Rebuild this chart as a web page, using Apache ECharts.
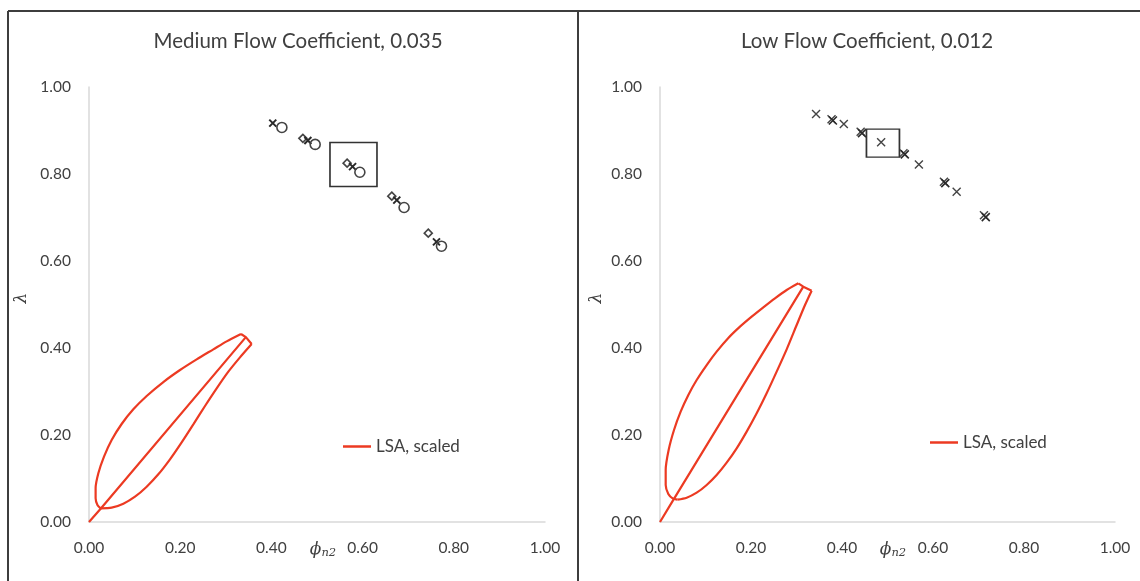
<!DOCTYPE html>
<html>
<head>
<meta charset="utf-8">
<script src="https://cdn.jsdelivr.net/npm/echarts@6/dist/echarts.min.js"></script>
<style>
  html, body { margin: 0; padding: 0; background: #ffffff; }
  #chart { width: 1140px; height: 581px; }
</style>
</head>
<body>
<div id="chart"></div>
<script>
// Axis ticks shared by both panels
const axisTicks = [0, 0.2, 0.4, 0.6, 0.8, 1.0];
const panelTitles = ['Medium Flow Coefficient, 0.035', 'Low Flow Coefficient, 0.012'];
const lsaName = 'LSA, scaled';

// Medium flow coefficient: operating points (phi_n2, lambda)
const medDiamond = [[0.469, 0.882], [0.566, 0.825], [0.664, 0.749], [0.744, 0.664]];
const medCross   = [[0.403, 0.917], [0.480, 0.877], [0.578, 0.817], [0.675, 0.740], [0.762, 0.644]];
const medCircle  = [[0.423, 0.907], [0.496, 0.868], [0.594, 0.804], [0.691, 0.723], [0.773, 0.634]];
const medBox     = [[0.580, 0.822]];

// Medium flow coefficient: LSA contour, scaled
const medLsaCenter = [[0, 0], [0.026, 0.031], [0.344, 0.425]];
const medLsaUpper  = [[0.3333, 0.4322], [0.3019, 0.4153], [0.2727, 0.3969], [0.2361, 0.3739], [0.1996, 0.3494],
                      [0.1630, 0.3218], [0.1265, 0.2897], [0.0972, 0.2590], [0.0716, 0.2253], [0.0497, 0.1885],
                      [0.0329, 0.1502], [0.0205, 0.1119], [0.0145, 0.0774], [0.0145, 0.0544], [0.0185, 0.0391],
                      [0.0256, 0.0314]];
const medLsaLower  = [[0.0256, 0.0314], [0.0497, 0.0330], [0.0753, 0.0421], [0.1009, 0.0582], [0.1265, 0.0812],
                      [0.1520, 0.1096], [0.1776, 0.1441], [0.2032, 0.1831], [0.2288, 0.2245], [0.2544, 0.2667],
                      [0.2800, 0.3073], [0.3056, 0.3456], [0.3311, 0.3785], [0.3567, 0.4092]];
const medLsaTip    = [[0.3567, 0.4092], [0.344, 0.425], [0.3333, 0.4322]];

// Low flow coefficient: operating points (phi_n2, lambda)
const lowCrossA = [[0.343, 0.938], [0.377, 0.926], [0.404, 0.915], [0.441, 0.897], [0.486, 0.873],
                   [0.535, 0.848], [0.569, 0.822], [0.624, 0.782], [0.652, 0.759], [0.712, 0.705]];
const lowCrossB = [[0.380, 0.923], [0.444, 0.894], [0.538, 0.845], [0.627, 0.779], [0.716, 0.701]];
const lowBox    = [[0.490, 0.871]];

// Low flow coefficient: LSA contour, scaled
const lowLsaCenter = [[0, 0], [0.026, 0.045], [0.315, 0.541]];
const lowLsaUpper  = [[0.3040, 0.5487], [0.2784, 0.5333], [0.2527, 0.5142], [0.2271, 0.4935], [0.2015, 0.4720],
                      [0.1758, 0.4490], [0.1502, 0.4230], [0.1245, 0.3916], [0.1026, 0.3609], [0.0806, 0.3264],
                      [0.0623, 0.2920], [0.0454, 0.2536], [0.0308, 0.2115], [0.0190, 0.1655], [0.0125, 0.1195],
                      [0.0125, 0.0851], [0.0183, 0.0644], [0.0278, 0.0544], [0.0381, 0.0513]];
const lowLsaLower  = [[0.0381, 0.0513], [0.0586, 0.0559], [0.0806, 0.0674], [0.1026, 0.0851], [0.1245, 0.1080],
                      [0.1465, 0.1364], [0.1685, 0.1693], [0.1905, 0.2077], [0.2125, 0.2498], [0.2344, 0.2958],
                      [0.2564, 0.3456], [0.2784, 0.3969], [0.3004, 0.4529], [0.3187, 0.4989], [0.3333, 0.5318]];
const lowLsaTip    = [[0.3333, 0.5318], [0.315, 0.541], [0.3040, 0.5487]];

const LSA_RED = '#ec3a22';
const TEXT = '#404040';
const AXIS_LINE = '#d9d9d9';
const FONT = 'Lato, "Open Sans", sans-serif';
const CROSS = 'path://M0,0L10,10M10,0L0,10';

function makeAxis(gridIndex) {
  return {
    type: 'value', gridIndex, min: axisTicks[0], max: axisTicks[axisTicks.length - 1], interval: 0.2,
    axisLine: { show: true, lineStyle: { color: AXIS_LINE, width: 1.5 } },
    axisTick: { show: false },
    splitLine: { show: false },
    axisLabel: { color: TEXT, fontSize: 15.5, fontFamily: FONT, margin: 18,
                 formatter: v => v.toFixed(2) }
  };
}

function lsaLine(data, xi, smooth) {
  return {
    name: lsaName, type: 'line', xAxisIndex: xi, yAxisIndex: xi, data,
    smooth: smooth ? 0.25 : false, showSymbol: false, symbol: 'none',
    lineStyle: { color: LSA_RED, width: 2.2 }, itemStyle: { color: LSA_RED },
    silent: true, z: 3
  };
}

function markerSeries(name, data, xi, symbol, size, color, width) {
  return {
    name, type: 'scatter', xAxisIndex: xi, yAxisIndex: xi, data, symbol, symbolSize: size,
    itemStyle: { color: 'rgba(0,0,0,0)', borderColor: color, borderWidth: width, opacity: 1 },
    silent: true, z: 4
  };
}

const chart = echarts.init(document.getElementById('chart'), null, { renderer: 'canvas' });

const serif = '"DejaVu Serif", serif';
const lambdaStyle = { text: 'λ', fontSize: 17, fontFamily: serif, fontStyle: 'italic', fill: TEXT,
                      align: 'center', verticalAlign: 'middle' };
const phiStyle = { text: '{p|ϕ}{s|n2}', align: 'center', verticalAlign: 'middle',
  rich: { p: { fontSize: 17, fontFamily: serif, fontStyle: 'italic', fill: TEXT },
          s: { fontSize: 11.5, fontFamily: serif, fontStyle: 'italic', fill: TEXT, padding: [7, 0, 0, 0] } } };

chart.setOption({
  backgroundColor: '#ffffff',
  animation: false,
  title: [
    { text: panelTitles[0], left: 293, top: 26, textAlign: 'center',
      textStyle: { fontSize: 20.5, fontWeight: 'normal', color: TEXT, fontFamily: FONT } },
    { text: panelTitles[1], left: 862, top: 26, textAlign: 'center',
      textStyle: { fontSize: 20.5, fontWeight: 'normal', color: TEXT, fontFamily: FONT } }
  ],
  legend: [
    { data: [lsaName], left: 338, top: 433, icon: 'rect', itemWidth: 28, itemHeight: 2.5, itemGap: 8,
      textStyle: { fontSize: 17, color: TEXT, fontFamily: FONT }, selectedMode: false },
    { data: [lsaName], left: 925, top: 429, icon: 'rect', itemWidth: 28, itemHeight: 2.5, itemGap: 8,
      textStyle: { fontSize: 17, color: TEXT, fontFamily: FONT }, selectedMode: false }
  ],
  grid: [
    { left: 89, top: 87, width: 456, height: 435 },
    { left: 660, top: 87, width: 455, height: 435 }
  ],
  xAxis: [makeAxis(0), makeAxis(1)],
  yAxis: [makeAxis(0), makeAxis(1)],
  graphic: [
    // panel frames
    { type: 'line', shape: { x1: 8, y1: 11, x2: 1140, y2: 11 }, style: { stroke: '#3d3d3d', lineWidth: 2 } },
    { type: 'line', shape: { x1: 8, y1: 11, x2: 8, y2: 581 }, style: { stroke: '#3d3d3d', lineWidth: 2 } },
    { type: 'line', shape: { x1: 578, y1: 11, x2: 578, y2: 581 }, style: { stroke: '#3d3d3d', lineWidth: 2 } },
    // axis names
    { type: 'text', x: 22, y: 298, rotation: Math.PI / 2, style: lambdaStyle },
    { type: 'text', x: 597, y: 298, rotation: Math.PI / 2, style: lambdaStyle },
    { type: 'text', x: 323, y: 550, style: phiStyle },
    { type: 'text', x: 893, y: 550, style: phiStyle }
  ],
  series: [
    lsaLine(medLsaCenter, 0, false),
    lsaLine(medLsaUpper, 0, true),
    lsaLine(medLsaLower, 0, true),
    lsaLine(medLsaTip, 0, false),
    markerSeries('diamond', medDiamond, 0, 'diamond', 8, '#444444', 1.6),
    markerSeries('cross', medCross, 0, CROSS, 7, '#2a2a2a', 2),
    markerSeries('circle', medCircle, 0, 'circle', 10, '#444444', 1.6),
    markerSeries('box', medBox, 0, 'rect', [47, 44], '#333333', 1.6),

    lsaLine(lowLsaCenter, 1, false),
    lsaLine(lowLsaUpper, 1, true),
    lsaLine(lowLsaLower, 1, true),
    lsaLine(lowLsaTip, 1, false),
    markerSeries('crossA', lowCrossA, 1, CROSS, 8, '#444444', 1.4),
    markerSeries('crossB', lowCrossB, 1, CROSS, 8, '#2a2a2a', 1.6),
    markerSeries('boxLow', lowBox, 1, 'rect', [33, 28], '#333333', 1.6)
  ]
});
</script>
</body>
</html>
